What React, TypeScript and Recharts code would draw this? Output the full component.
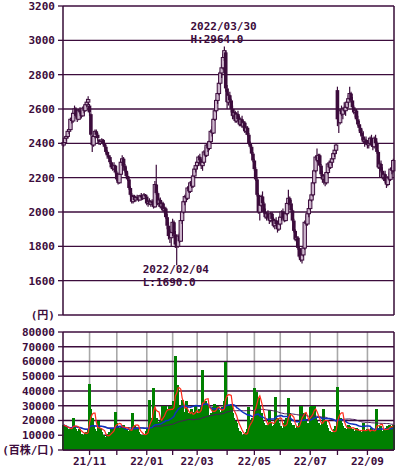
import React from 'react'
import {
  ComposedChart,
  Bar,
  Line,
  XAxis,
  YAxis,
  CartesianGrid,
  ReferenceDot,
} from 'recharts'

const INK = '#3c0c3c'
const GRAY = '#a8a8a8'
const GREEN = '#008000'
const FONT = "'DejaVu Sans Mono', 'Noto Sans CJK JP', monospace"

const MONTHS = ['21/10', '21/11', '21/12', '22/01', '22/02', '22/03', '22/04', '22/05', '22/06', '22/07', '22/08', '22/09']
const LABELED_MONTHS = ['21/11', '22/01', '22/03', '22/05', '22/07', '22/09']
const PRICE_TICKS = [1400, 1600, 1800, 2000, 2200, 2400, 2600, 2800, 3000, 3200]
const VOLUME_TICKS = [0, 10000, 20000, 30000, 40000, 50000, 60000, 70000, 80000]

// daily candles: [open, high, low, close]
const OCT21 = [
  [2390, 2420, 2380, 2405], [2405, 2440, 2400, 2430], [2430, 2450, 2415, 2440], [2440, 2480, 2430, 2470],
  [2470, 2490, 2455, 2480], [2480, 2550, 2475, 2540], [2540, 2560, 2515, 2530], [2530, 2590, 2520, 2575],
  [2575, 2620, 2565, 2600], [2600, 2610, 2550, 2560], [2560, 2575, 2525, 2540], [2540, 2600, 2535, 2590],
  [2590, 2610, 2570, 2580], [2580, 2590, 2545, 2560], [2560, 2615, 2555, 2605], [2605, 2620, 2575, 2590],
  [2590, 2640, 2585, 2625], [2625, 2660, 2610, 2640], [2640, 2675, 2625, 2655],
]
const NOV21 = [
  [2620, 2630, 2560, 2580], [2570, 2580, 2440, 2450], [2440, 2450, 2350, 2390], [2390, 2450, 2380, 2440],
  [2440, 2480, 2430, 2470], [2470, 2480, 2440, 2450], [2450, 2460, 2415, 2430], [2420, 2425, 2390, 2400],
  [2400, 2420, 2390, 2410], [2410, 2430, 2400, 2420], [2420, 2425, 2390, 2400], [2400, 2410, 2370, 2380],
  [2380, 2390, 2340, 2350], [2350, 2360, 2310, 2330], [2330, 2350, 2310, 2320], [2320, 2330, 2280, 2290],
  [2290, 2300, 2250, 2260], [2260, 2280, 2240, 2250], [2250, 2290, 2245, 2270], [2270, 2275, 2220, 2230],
]
const DEC21 = [
  [2230, 2240, 2180, 2190], [2190, 2200, 2160, 2170], [2170, 2230, 2165, 2220], [2220, 2300, 2215, 2290],
  [2290, 2330, 2270, 2310], [2310, 2320, 2260, 2270], [2270, 2280, 2230, 2240], [2240, 2260, 2200, 2210],
  [2210, 2230, 2180, 2190], [2190, 2200, 2130, 2140], [2140, 2150, 2090, 2100], [2100, 2110, 2050, 2060],
  [2060, 2100, 2050, 2090], [2090, 2100, 2060, 2070], [2070, 2095, 2060, 2085], [2085, 2100, 2070, 2080],
  [2080, 2090, 2060, 2070], [2070, 2100, 2065, 2095], [2095, 2110, 2075, 2085], [2085, 2095, 2070, 2080],
  [2080, 2110, 2075, 2100], [2100, 2105, 2080, 2090],
]
const JAN22 = [
  [2090, 2100, 2040, 2050], [2050, 2070, 2030, 2060], [2060, 2080, 2040, 2045], [2045, 2070, 2030, 2060],
  [2060, 2075, 2040, 2050], [2050, 2070, 2020, 2030], [2030, 2180, 2025, 2160], [2160, 2275, 2100, 2110],
  [2110, 2120, 2040, 2050], [2050, 2080, 2030, 2070], [2070, 2085, 2020, 2030], [2030, 2060, 2010, 2050],
  [2050, 2060, 2000, 2010], [2010, 2030, 1990, 2020], [2020, 2030, 1960, 1970], [1970, 1990, 1900, 1920],
  [1920, 1940, 1840, 1860], [1860, 1890, 1820, 1850], [1850, 1900, 1800, 1880],
]
const FEB22 = [
  [1880, 1960, 1860, 1940], [1940, 1950, 1850, 1870], [1870, 1890, 1790, 1810], [1810, 1830, 1690, 1800],
  [1800, 1870, 1790, 1860], [1860, 1880, 1820, 1830], [1830, 1960, 1825, 1950], [1950, 2010, 1930, 2000],
  [2000, 2070, 1990, 2060], [2060, 2100, 2040, 2090], [2090, 2110, 2060, 2080], [2080, 2150, 2070, 2140],
  [2140, 2160, 2110, 2120], [2120, 2180, 2110, 2170], [2170, 2190, 2140, 2150], [2150, 2220, 2140, 2210],
  [2210, 2260, 2200, 2250], [2250, 2290, 2230, 2270],
]
const MAR22 = [
  [2270, 2300, 2250, 2290], [2290, 2330, 2270, 2320], [2320, 2340, 2280, 2300], [2300, 2310, 2250, 2270],
  [2270, 2300, 2240, 2290], [2290, 2360, 2280, 2350], [2350, 2380, 2320, 2330], [2330, 2400, 2320, 2390],
  [2390, 2410, 2350, 2370], [2370, 2420, 2360, 2410], [2410, 2480, 2400, 2470], [2470, 2500, 2440, 2460],
  [2460, 2550, 2455, 2540], [2540, 2600, 2530, 2590], [2590, 2660, 2580, 2650], [2650, 2700, 2630, 2690],
  [2690, 2760, 2680, 2750], [2750, 2820, 2740, 2810], [2810, 2860, 2780, 2840], [2840, 2920, 2830, 2900],
  [2900, 2964, 2880, 2940], [2930, 2940, 2700, 2720],
]
const APR22 = [
  [2720, 2740, 2600, 2640], [2640, 2690, 2620, 2680], [2680, 2700, 2640, 2650], [2650, 2660, 2580, 2600],
  [2600, 2620, 2540, 2560], [2560, 2600, 2540, 2580], [2580, 2590, 2520, 2530], [2530, 2580, 2520, 2570],
  [2570, 2590, 2530, 2540], [2540, 2560, 2500, 2510], [2510, 2550, 2500, 2540], [2540, 2560, 2490, 2500],
  [2500, 2530, 2480, 2520], [2520, 2530, 2460, 2470], [2470, 2500, 2450, 2490], [2490, 2500, 2440, 2450],
  [2450, 2460, 2390, 2400], [2400, 2410, 2370, 2380], [2380, 2390, 2330, 2340], [2340, 2350, 2290, 2300],
]
const MAY22 = [
  [2300, 2310, 2240, 2250], [2250, 2260, 2180, 2190], [2190, 2200, 2090, 2100], [2100, 2110, 1990, 2000],
  [2000, 2050, 1950, 2040], [2040, 2100, 2030, 2090], [2090, 2120, 2040, 2050], [2050, 2060, 1990, 2000],
  [2000, 2020, 1960, 1970], [1970, 2000, 1950, 1990], [1990, 2010, 1960, 1970], [1970, 1990, 1930, 1950],
  [1950, 2000, 1940, 1990], [1990, 2000, 1940, 1960], [1960, 1970, 1910, 1920], [1920, 1960, 1900, 1950],
  [1950, 1970, 1920, 1930], [1930, 1950, 1880, 1900], [1900, 1940, 1890, 1930],
]
const JUN22 = [
  [1930, 1980, 1920, 1970], [1970, 2010, 1950, 2000], [2000, 2020, 1960, 1970], [1970, 1990, 1940, 1950],
  [1950, 2000, 1945, 1990], [1990, 2060, 1980, 2050], [2050, 2130, 2040, 2080], [2080, 2090, 2040, 2050],
  [2050, 2070, 2000, 2010], [2010, 2020, 1940, 1950], [1950, 1960, 1880, 1890], [1890, 1900, 1830, 1840],
  [1840, 1860, 1800, 1850], [1850, 1860, 1780, 1790], [1790, 1800, 1730, 1740], [1740, 1760, 1710, 1720],
  [1720, 1760, 1700, 1750], [1750, 1800, 1740, 1790], [1790, 1950, 1780, 1940], [1940, 1980, 1920, 1930],
  [1930, 2000, 1920, 1990], [1990, 2040, 1970, 2020],
]
const JUL22 = [
  [2020, 2080, 2010, 2070], [2070, 2110, 2060, 2100], [2100, 2180, 2090, 2170], [2170, 2250, 2160, 2240],
  [2240, 2330, 2230, 2320], [2320, 2370, 2290, 2300], [2300, 2340, 2280, 2330], [2330, 2340, 2260, 2270],
  [2270, 2280, 2210, 2220], [2220, 2240, 2170, 2190], [2190, 2220, 2160, 2210], [2210, 2230, 2150, 2170],
  [2170, 2240, 2160, 2230], [2230, 2290, 2220, 2280], [2280, 2300, 2240, 2260], [2260, 2300, 2250, 2290],
  [2290, 2320, 2270, 2310], [2310, 2350, 2300, 2340], [2340, 2370, 2320, 2360], [2360, 2400, 2340, 2390],
]
const AUG22 = [
  [2710, 2730, 2500, 2540], [2540, 2570, 2460, 2520], [2520, 2600, 2510, 2590], [2590, 2620, 2560, 2570],
  [2570, 2610, 2540, 2600], [2600, 2640, 2580, 2590], [2590, 2620, 2560, 2610], [2610, 2650, 2600, 2640],
  [2640, 2680, 2620, 2660], [2660, 2730, 2650, 2690], [2690, 2700, 2640, 2650], [2650, 2670, 2600, 2610],
  [2610, 2620, 2570, 2580], [2580, 2600, 2550, 2590], [2590, 2600, 2530, 2540], [2540, 2560, 2500, 2510],
  [2510, 2530, 2470, 2490], [2490, 2510, 2450, 2460], [2460, 2480, 2420, 2440], [2440, 2470, 2400, 2410],
  [2410, 2430, 2380, 2420], [2420, 2440, 2390, 2400],
]
const SEP22 = [
  [2400, 2420, 2370, 2390], [2390, 2410, 2370, 2400], [2400, 2440, 2390, 2430], [2430, 2450, 2380, 2390],
  [2390, 2400, 2360, 2380], [2380, 2440, 2370, 2430], [2430, 2450, 2390, 2400], [2400, 2410, 2340, 2350],
  [2350, 2360, 2250, 2260], [2260, 2290, 2200, 2280], [2280, 2300, 2230, 2240], [2240, 2260, 2190, 2200],
  [2200, 2230, 2180, 2220], [2220, 2240, 2170, 2180], [2180, 2200, 2140, 2160], [2160, 2210, 2150, 2200],
  [2200, 2230, 2180, 2190], [2190, 2260, 2180, 2250], [2250, 2280, 2220, 2240], [2240, 2310, 2230, 2300],
]

// daily volume (百株/口)
const VOL_OCT21 = [17000, 16000, 15500, 14000, 13500, 14500, 15000, 22000, 16000, 14500, 13000, 12500, 14000, 11000, 10500, 10000, 11500, 12500, 14000]
const VOL_NOV21 = [45000, 28000, 22000, 16000, 14000, 13000, 12000, 20000, 15000, 12000, 10000, 9000, 8500, 9500, 11000, 12500, 14000, 13000, 15000, 26000]
const VOL_DEC21 = [18000, 16000, 15000, 14000, 16000, 17000, 15000, 14000, 13000, 12500, 13500, 14000, 25000, 17000, 15000, 14000, 12000, 11000, 10000, 10500, 9500, 11000]
const VOL_JAN22 = [13000, 15000, 34000, 22000, 20000, 42000, 28000, 22000, 19000, 18000, 20000, 22000, 30000, 25000, 30000, 28000, 24000, 30000, 26000]
const VOL_FEB22 = [30000, 33000, 64000, 40000, 44000, 30000, 28000, 34000, 26000, 24000, 33000, 22000, 25000, 20000, 28000, 26000, 24000, 30000]
const VOL_MAR22 = [25000, 22000, 28000, 30000, 54000, 26000, 33000, 30000, 31000, 24000, 22000, 25000, 29000, 31000, 28000, 30000, 27000, 24000, 26000, 29000, 33000, 60000]
const VOL_APR22 = [36000, 30000, 28000, 31000, 25000, 22000, 20000, 18000, 15000, 13000, 12000, 10000, 9000, 11000, 12000, 14000, 29000, 20000, 18000, 22000]
const VOL_MAY22 = [42000, 38000, 39000, 35000, 30000, 25000, 20000, 18000, 16000, 17000, 15000, 27000, 18000, 16000, 14000, 17000, 36000, 22000, 18000]
const VOL_JUN22 = [16000, 15000, 14000, 18000, 20000, 22000, 35000, 25000, 18000, 16000, 17000, 15000, 14000, 16000, 18000, 30000, 30000, 22000, 25000, 20000, 18000, 17000]
const VOL_JUL22 = [29000, 30000, 28000, 30000, 22000, 20000, 18000, 17000, 16000, 19000, 28000, 20000, 17000, 15000, 13000, 12000, 11000, 12000, 14000, 16000]
const VOL_AUG22 = [43000, 27000, 22000, 18000, 16000, 15000, 14000, 13000, 17000, 16000, 15000, 14000, 13000, 12000, 15000, 14000, 13000, 12000, 11000, 18000, 12000, 13000]
const VOL_SEP22 = [14000, 13000, 12000, 15000, 13000, 12000, 14000, 28000, 15000, 14000, 16000, 13000, 12000, 14000, 15000, 16000, 17000, 16000, 15000, 17000]

const CANDLES = [OCT21, NOV21, DEC21, JAN22, FEB22, MAR22, APR22, MAY22, JUN22, JUL22, AUG22, SEP22]
const VOLUMES = [VOL_OCT21, VOL_NOV21, VOL_DEC21, VOL_JAN22, VOL_FEB22, VOL_MAR22, VOL_APR22, VOL_MAY22, VOL_JUN22, VOL_JUL22, VOL_AUG22, VOL_SEP22]

const HIGH_NOTE = { month: '22/03', day: 20, value: 2964, date: '2022/03/30', text: 'H:2964.0' }
const LOW_NOTE = { month: '22/02', day: 3, value: 1690, date: '2022/02/04', text: 'L:1690.0' }

const rows = MONTHS.flatMap((m, mi) =>
  CANDLES[mi].map(([o, h, l, c], di) => ({
    key: `${m}-${di}`,
    o,
    h,
    l,
    c,
    range: [l, h],
    vol: VOLUMES[mi][di],
  })),
)

// moving averages of the volume shown
const average = (n: number) =>
  rows.map((_, i) => {
    const part = rows.slice(Math.max(0, i - n + 1), i + 1)
    return part.reduce((s, r) => s + r.vol, 0) / part.length
  })
const ma5 = average(5)
const ma25 = average(25)
const ma75 = average(75)
rows.forEach((r: any, i) => {
  r.ma5 = ma5[i]
  r.ma25 = ma25[i]
  r.ma75 = ma75[i]
})

const MONTH_STARTS = MONTHS.slice(1).map((m) => `${m}-0`)

const tickStyle = { fill: INK, fontSize: 11, fontWeight: 'bold', fontFamily: FONT }

const Candle = (props: any) => {
  const { x, y, width, height, payload } = props
  const { o, h, l, c } = payload
  const top = Math.min(y, y + height)
  const hh = Math.abs(height)
  const k = hh / (h - l)
  const cx = x + width / 2
  const yo = top + (h - o) * k
  const yc = top + (h - c) * k
  const bodyTop = Math.min(yo, yc)
  const bodyH = Math.max(Math.abs(yo - yc), 1.2)
  const up = c > o
  return (
    <g>
      <line x1={cx} x2={cx} y1={top} y2={top + hh} stroke={INK} strokeWidth={1.2} />
      {up ? (
        <rect x={cx - 1.7} y={bodyTop} width={3.4} height={bodyH} fill="#cdb6cd" stroke={INK} strokeWidth={1} />
      ) : (
        <rect x={cx - 1.8} y={bodyTop} width={3.6} height={bodyH} fill={INK} />
      )}
    </g>
  )
}

const VolumeBar = (props: any) => {
  const { x, y, width, height } = props
  const cx = x + width / 2
  return <rect x={cx - 1.5} y={y} width={3} height={height} fill={GREEN} shapeRendering="crispEdges" />
}

const Note = (props: any) => {
  const { viewBox, date, text, dy1, dy2 } = props
  const x = viewBox.x - 34
  return (
    <g>
      <text x={x} y={viewBox.y + dy1} {...tickStyle}>{date}</text>
      <text x={x} y={viewBox.y + dy2} {...tickStyle}>{text}</text>
    </g>
  )
}

export default function App() {
  return (
    <div style={{ position: 'absolute', left: 0, top: 0, width: 400, height: 473, background: '#fff' }}>
      <div style={{ position: 'absolute', left: 0, top: 0 }}>
        <ComposedChart width={400} height={322} data={rows} margin={{ top: 6, right: 5, bottom: 7, left: 0 }}>
          <CartesianGrid horizontal={false} stroke={GRAY} strokeWidth={1.6} />
          <CartesianGrid vertical={false} stroke={INK} strokeWidth={1.3} />
          <XAxis
            dataKey="key"
            ticks={MONTH_STARTS}
            interval={0}
            height={0}
            tick={false}
            tickLine={false}
            axisLine={false}
          />
          <YAxis
            domain={[1400, 3200]}
            ticks={PRICE_TICKS}
            interval={0}
            width={63}
            tickSize={5}
            tickMargin={3}
            tick={tickStyle}
            tickLine={{ stroke: INK, strokeWidth: 1.3 }}
            axisLine={{ stroke: INK, strokeWidth: 1.3 }}
            tickFormatter={(v) => (v === 1400 ? '(円)' : String(v))}
          />
          <YAxis
            yAxisId="r"
            orientation="right"
            domain={[1400, 3200]}
            width={1}
            tick={false}
            tickLine={false}
            axisLine={{ stroke: INK, strokeWidth: 1.3 }}
          />
          <Bar dataKey="range" shape={<Candle />} isAnimationActive={false} />
          <ReferenceDot
            x={`${HIGH_NOTE.month}-${HIGH_NOTE.day}`}
            y={HIGH_NOTE.value}
            r={0}
            label={<Note date={HIGH_NOTE.date} text={HIGH_NOTE.text} dy1={-17} dy2={-4} />}
          />
          <ReferenceDot
            x={`${LOW_NOTE.month}-${LOW_NOTE.day}`}
            y={LOW_NOTE.value}
            r={0}
            label={<Note date={LOW_NOTE.date} text={LOW_NOTE.text} dy1={8} dy2={21} />}
          />
        </ComposedChart>
      </div>
      <div style={{ position: 'absolute', left: 0, top: 320 }}>
        <ComposedChart
          width={400}
          height={153}
          data={rows}
          barCategoryGap={0}
          barGap={0}
          margin={{ top: 12, right: 5, bottom: 0, left: 0 }}
        >
          <CartesianGrid horizontal={false} stroke={GRAY} strokeWidth={1.6} />
          <CartesianGrid vertical={false} stroke={INK} strokeWidth={1.3} />
          <XAxis
            dataKey="key"
            ticks={MONTH_STARTS}
            interval={0}
            height={23}
            tickSize={5}
            tickMargin={2}
            tick={tickStyle}
            tickLine={{ stroke: INK, strokeWidth: 1.3 }}
            axisLine={{ stroke: INK, strokeWidth: 1.3 }}
            tickFormatter={(k) => {
              const m = String(k).slice(0, 5)
              return LABELED_MONTHS.includes(m) ? m : ''
            }}
          />
          <YAxis
            domain={[0, 80000]}
            ticks={VOLUME_TICKS}
            interval={0}
            width={63}
            tickSize={5}
            tickMargin={3}
            tick={tickStyle}
            tickLine={{ stroke: INK, strokeWidth: 1.3 }}
            axisLine={{ stroke: INK, strokeWidth: 1.3 }}
            tickFormatter={(v) => (v === 0 ? '(百株/口)' : String(v))}
          />
          <YAxis
            yAxisId="r"
            orientation="right"
            domain={[0, 80000]}
            width={1}
            tick={false}
            tickLine={false}
            axisLine={{ stroke: INK, strokeWidth: 1.3 }}
          />
          <Bar dataKey="vol" shape={<VolumeBar />} isAnimationActive={false} />
          <Line dataKey="ma75" stroke="#4a1a5a" strokeWidth={1} dot={false} isAnimationActive={false} />
          <Line dataKey="ma25" stroke="#1030c0" strokeWidth={1.5} dot={false} isAnimationActive={false} />
          <Line dataKey="ma5" stroke="#ff2a1a" strokeWidth={1.2} dot={false} isAnimationActive={false} />
        </ComposedChart>
      </div>
    </div>
  )
}
